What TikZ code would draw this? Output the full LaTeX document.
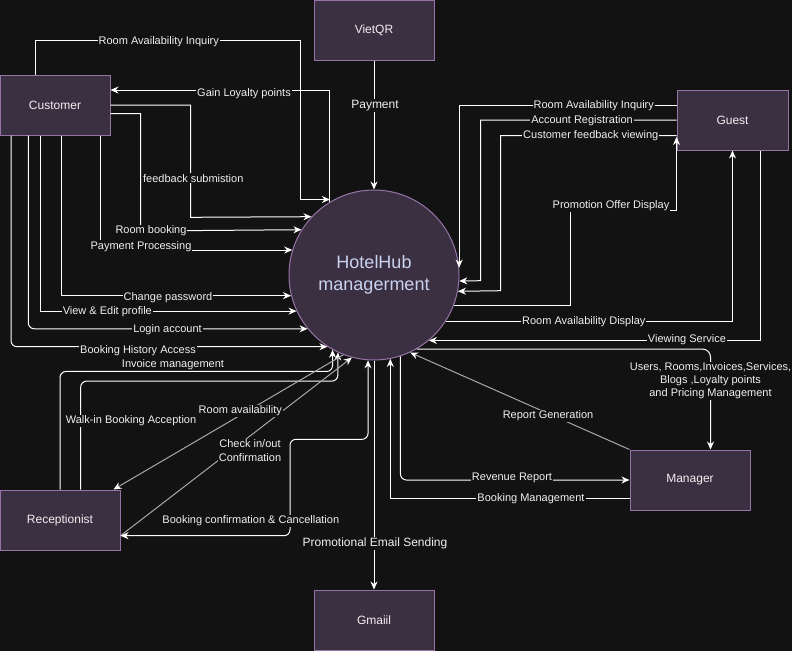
\documentclass[tikz,border=0pt]{standalone}
\usepackage{fontspec}
\setmainfont{Liberation Sans}
\usetikzlibrary{arrows.meta,positioning,calc}
\definecolor{pagebg}{HTML}{121212}
\definecolor{boxfill}{HTML}{3B2F42}
\definecolor{boxline}{HTML}{9673A6}
\definecolor{hubtext}{HTML}{C9D3F0}
\definecolor{greyline}{HTML}{A8A8A8}
\definecolor{inktext}{HTML}{F0F0F0}

\begin{document}
\begin{tikzpicture}[x=1pt,y=-1pt,
  box/.style={draw=boxline,fill=boxfill,line width=1pt,minimum width=120pt,minimum height=60pt,inner sep=0pt,text=inktext,font=\fontsize{12}{14}\selectfont},
  flow/.style={draw=white,line width=1pt,-{Stealth[length=8pt,width=7pt,color=white]}},
  dim/.style={flow,draw=greyline},
  lbl/.style={fill=pagebg,text=inktext,inner sep=1pt,font=\fontsize{11}{13}\selectfont,align=center}]
  \fill[pagebg] (0,0) rectangle (792,651);
  \useasboundingbox (0,0) rectangle (792,651);

  % Entities and the process
  \node[box] (viet) at (374,30) {VietQR};
  \node[box,minimum width=110pt] (cust) at (55,105) {Customer};
  \node[box,minimum width=111pt] (guest) at (732.5,120) {Guest};
  \node[box,circle,minimum size=170pt,text=hubtext,align=center,font=\fontsize{18}{22}\selectfont] (hub) at (374,275) {HotelHub\\managerment};
  \node[box] (recep) at (60,520) {Receptionist};
  \node[box] (mgr) at (690,480) {Manager};
  \node[box] (gmail) at (374,620) {Gmaiil};

  % Customer flows
  \draw[flow] ([xshift=-20pt]cust.north) |- (300.7,40.7) |- ([xshift=-4pt]hub.118.07);
  \draw[flow] (hub.121.17) |- ([yshift=15pt]cust.east);
  \draw[flow] (cust.east) -| (190.7,217.3) -- (hub.137.25);
  \draw[flow] ([yshift=-8.7pt]cust.east) -| (140.7,231) -- (hub.148.83);
  \draw[flow] ([xshift=45.7pt]cust.south) |- (hub.163.25);
  \draw[flow] ([xshift=6pt]cust.south) |- (hub.194.65);
  \draw[flow] ([xshift=-15pt]cust.south) |- (hub.205.28);
  \draw[flow,rounded corners=6pt] ([xshift=-26.7pt]cust.south) |- (hub.219.7);
  \draw[flow,rounded corners=6pt] ([xshift=-44pt]cust.south) |- (hub.237.9);

  % Payment gateway
  \draw[flow] (viet.south) -- (hub.north);

  % Guest flows
  \draw[flow] ([yshift=14.3pt]guest.west) -| (hub.5);
  \draw[flow] (guest.west) -| (480.7,280.7) -- (hub.356.15);
  \draw[flow] ([yshift=-15.7pt]guest.west) -| (500.7,290.7) -- (hub.349.36);
  \draw[flow] (hub.339.33) -| (570.7,210) -| ([yshift=-17pt]guest.west);
  \draw[flow] (hub.327) -| (guest.south);
  \draw[flow] ([xshift=28pt]guest.south) |- (hub.310.12);

  % Manager flows
  \draw[flow,rounded corners=8pt] (hub.300.41) -| ([xshift=20.5pt]mgr.north);
  \draw[dim] (mgr.north west) -- (hub.295.71);
  \draw[flow,rounded corners=6pt] (hub.288.3) |- (mgr.west);
  \draw[flow] ([yshift=-18.7pt]mgr.west) -| (hub.281.33);

  % Mail
  \draw[flow] (hub.south) -- (gmail.north);

  % Receptionist flows
  \draw[flow,rounded corners=6pt] (recep.north) |- ([yshift=-21.7pt]hub.241) -- (hub.241);
  \draw[flow,rounded corners=6pt] ([xshift=20.7pt]recep.north) |- ([yshift=-28.6pt]hub.245.17) -- (hub.245.17);
  \draw[dim] (hub.249) -- ([xshift=-7pt]recep.north east);
  \draw[dim] ([yshift=-15.7pt]recep.east) -- (hub.255);
  \draw[flow,{Stealth[length=8pt,width=7pt,color=white]}-{Stealth[length=8pt,width=7pt,color=white]},rounded corners=6pt]
    (hub.266.83) |- (290,439.3) |- ([yshift=-15.7pt]recep.east);

  % Labels
  \node[lbl] (tCustInq) at (158.8,41.3) {Room Availability Inquiry};
  \node[lbl] (tGain) at (244,93.3) {Gain Loyalty points};
  \node[lbl] (tFeed) at (193.3,178.3) {feedback submistion};
  \node[lbl] (tBook) at (151,231) {Room booking};
  \node[lbl] (tPayProc) at (141,246.3) {Payment Processing};
  \node[lbl] (tPwd) at (168,297.3) {Change password};
  \node[lbl] (tProfile) at (107.3,311.3) {View \& Edit profile};
  \node[lbl] (tLogin) at (167.5,329.3) {Login account};
  \node[lbl] (tHist) at (138,350.3) {Booking History Access};
  \node[lbl,font=\fontsize{12}{14}\selectfont] (tPay) at (375,105.7) {Payment};
  \node[lbl] (tGuestInq) at (593.8,105.7) {Room Availability Inquiry};
  \node[lbl] (tReg) at (582,120.7) {Account Registration};
  \node[lbl] (tView) at (590.8,136) {Customer feedback viewing};
  \node[lbl] (tPromo) at (611,206) {Promotion Offer Display};
  \node[lbl] (tDisp) at (583.8,321.5) {Room Availability Display};
  \node[lbl] (tServ) at (687,340) {Viewing Service};
  \node[lbl] (tMgmt) at (710.5,381) {Users, Rooms,Invoices,Services,\\Blogs ,Loyalty points\\and Pricing Management};
  \node[lbl] (tReport) at (548,416) {Report Generation};
  \node[lbl] (tRev) at (512,478) {Revenue Report};
  \node[lbl] (tBookMgmt) at (531,498.7) {Booking Management};
  \node[lbl,font=\fontsize{12}{14}\selectfont] (tMail) at (375,543.3) {Promotional Email Sending};
  \node[lbl] (tInv) at (173,364.3) {Invoice management};
  \node[lbl] (tWalk) at (131,421) {Walk-in Booking Acception};
  \node[lbl] (tAvail) at (240.3,411) {Room availability};
  \node[lbl,font=\fontsize{11}{14}\selectfont] (tCheck) at (250,451) {Check in/out\\Confirmation};
  \node[lbl] (tConf) at (250.8,521) {Booking confirmation \& Cancellation};
\end{tikzpicture}
\end{document}
